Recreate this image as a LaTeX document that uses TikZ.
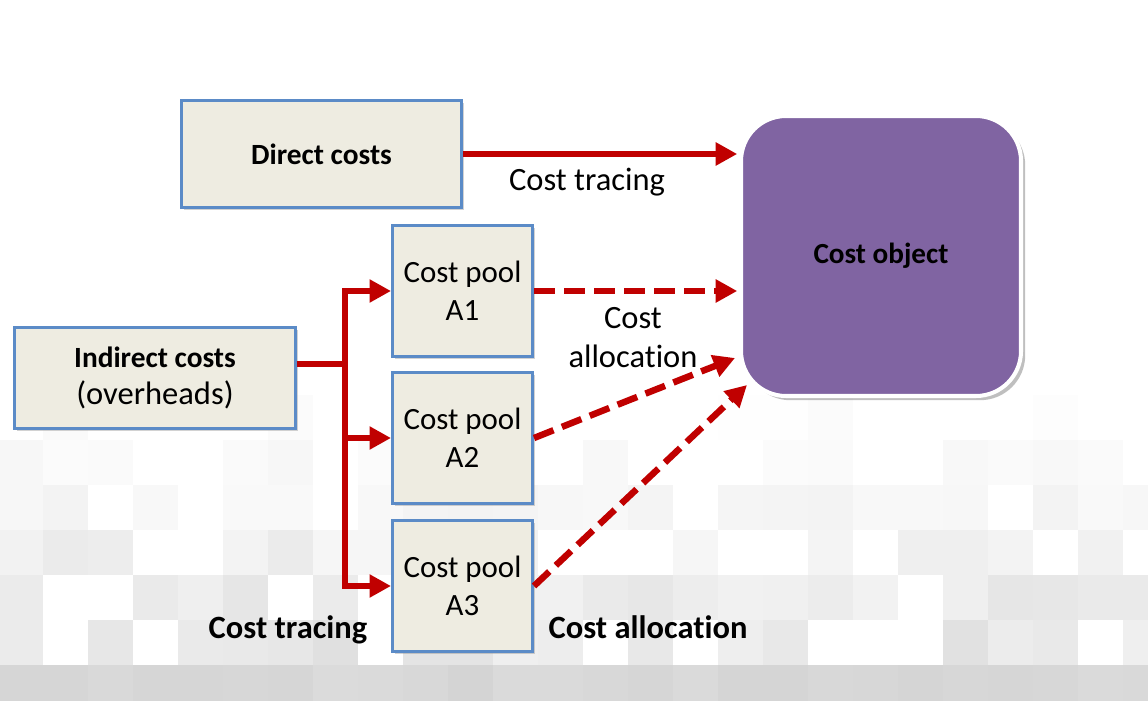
\documentclass[tikz,border=0pt]{standalone}
\usepackage{fontspec}
\setmainfont[Ligatures=NoCommon]{Carlito}
\usetikzlibrary{arrows.meta, shadows}

\definecolor{boxfill}{HTML}{EEECE1}
\definecolor{boxline}{HTML}{5B8BC7}
\definecolor{costred}{HTML}{C00000}
\definecolor{objpurple}{HTML}{8064A2}

\tikzset{
    costbox/.style={draw=boxline, fill=boxfill, line width=1.7pt, align=center,
        drop shadow={shadow xshift=0.05cm, shadow yshift=-0.05cm, opacity=0.35}},
    poolbox/.style={costbox, minimum width=2.8cm, minimum height=2.62cm,
        font=\fontsize{17.6}{21.6}\selectfont},
    tracing/.style={draw=costred, line width=3.7pt},
    allocation/.style={tracing, dash pattern=on 0.42cm off 0.18cm},
    costtip/.style={-{Triangle[length=0.43cm, width=0.44cm]}},
    bigtext/.style={font=\fontsize{18.5}{22}\selectfont},
}

\begin{document}
\begin{tikzpicture}
    \useasboundingbox (0, 0) rectangle (22.96, 14);
    \fill[white] (0, 0) rectangle (22.96, 14);

    % pixel background
    \pgfmathsetseed{42}
    \foreach \r/\lo/\hi/\p in {0/0/2/0.15, 1/1/3/0.45, 2/2/5/0.65, 3/3/8/0.75, 4/5/10/0.8, 5/6/14/0.8, 6/14/17/1.0} {
        \foreach \c in {0,...,25} {
            \pgfmathsetmacro\g{rnd < \p ? \lo + (\hi - \lo) * rnd : 0}
            \fill[black!\g!white] (-0.04 + 0.9 * \c, 6.1 - 0.9 * \r) rectangle ++(0.9, -0.9);
        }
    }

    \node[costbox, minimum width=5.6cm, minimum height=2.14cm,
        font=\fontsize{16.7}{20}\selectfont\bfseries] (direct) at (6.43, 10.92) {Direct costs};
    \node[costbox, minimum width=5.62cm, minimum height=2.02cm,
        font=\fontsize{18.5}{21}\selectfont] (indirect) at (3.10, 6.44)
        {{\fontsize{16.7}{21}\selectfont\bfseries Indirect costs}\\(overheads)};

    \node[poolbox] (A1) at (9.25, 8.18) {Cost pool\\A1};
    \node[poolbox] (A2) at (9.25, 5.24) {Cost pool\\A2};
    \node[poolbox] (A3) at (9.25, 2.28) {Cost pool\\A3};

    \node[draw=white, line width=2.3pt, fill=objpurple, rounded corners=0.9cm,
        minimum width=5.6cm, minimum height=5.6cm, drop shadow,
        font=\fontsize{16.6}{20}\selectfont\bfseries] (object) at (17.62, 8.88) {Cost object};

    \coordinate (trunk) at (6.90, 0);
    \coordinate (feed) at ([yshift=0.28cm]indirect.east);
    \coordinate (end2) at (14.70, 6.84);
    \coordinate (end3) at (14.94, 6.30);

    % cost tracing
    \draw[tracing, costtip, shorten >=1pt] (direct.east) -- (direct.east -| object.west);
    \draw[tracing] (feed) -- (feed -| trunk);
    \draw[tracing, {Triangle[length=0.43cm, width=0.44cm]}-{Triangle[length=0.43cm, width=0.44cm]}]
        (A1.west) -- (A1.west -| trunk) |- (A3.west);
    \draw[tracing, costtip] (A2.west -| trunk) -- (A2.west);

    % cost allocation
    \draw[allocation, costtip, shorten >=1pt] (A1.east) -- (A1.east -| object.west);
    \draw[allocation, costtip] (A2.east) -- (end2);
    \draw[allocation, costtip] (A3.east) -- (end3);

    \node[bigtext, anchor=base] (tracetop) at (11.74, 10.18) {Cost tracing};
    \node[bigtext, align=center] (alloctop) at (12.66, 7.25) {Cost\\allocation};
    \node[bigtext, font=\fontsize{18.5}{22}\selectfont\bfseries, anchor=base] (tracebottom) at (5.76, 1.24) {Cost tracing};
    \node[bigtext, font=\fontsize{18.5}{22}\selectfont\bfseries, anchor=base] (allocbottom) at (12.96, 1.24) {Cost allocation};
\end{tikzpicture}
\end{document}
